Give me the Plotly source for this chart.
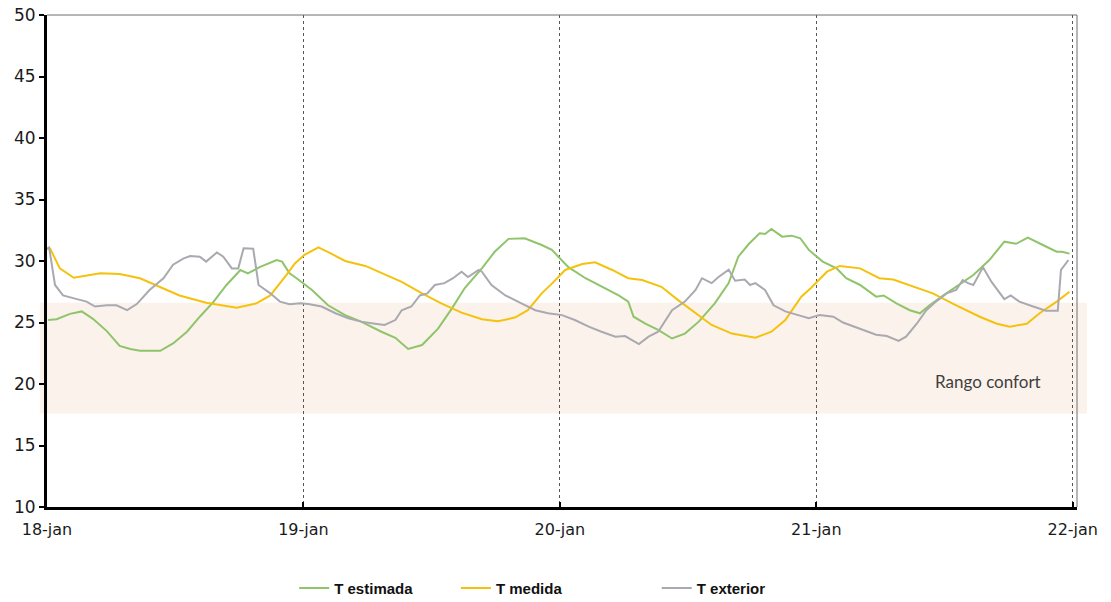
import plotly.graph_objects as go

# ---------------- data (hours since 18-jan 00:00, °C) ----------------
day_ticks = [0, 24, 48, 72, 96]
day_labels = ["18-jan", "19-jan", "20-jan", "21-jan", "22-jan"]
y_ticks = [10, 15, 20, 25, 30, 35, 40, 45, 50]

estimada_h = [0.1, 0.9, 2.15, 3.25, 4.3, 5.6, 6.8, 7.8, 8.7, 10.6, 11.8, 13.1, 14.3, 15.6, 16.8,
              18.1, 18.8, 19.9, 21.5, 22.0, 22.7, 23.2, 24.8, 26.3, 27.9, 29.4, 31.3, 32.6, 33.8,
              35.1, 36.6, 37.9, 39.1, 40.7, 41.9, 43.2, 44.7, 46.3, 47.25, 48.8, 50.4, 51.9, 53.5,
              54.4, 54.9, 56.0, 57.2, 58.5, 59.7, 61.0, 62.5, 63.8, 64.7, 65.7, 66.7, 67.2, 67.8,
              68.8, 69.7, 70.5, 71.3, 72.6, 73.9, 74.8, 76.1, 77.6, 78.3, 79.5, 80.75, 81.7, 82.6,
              83.9, 85.1, 86.7, 88.2, 89.6, 90.7, 91.8, 93.2, 94.5, 95.0, 95.7]
estimada_v = [25.2, 25.26, 25.7, 25.9, 25.3, 24.3, 23.1, 22.85, 22.7, 22.7, 23.3, 24.25, 25.47, 26.7, 28.05,
              29.27, 29.0, 29.5, 30.08, 29.95, 29.0, 28.7, 27.64, 26.4, 25.6, 25.07, 24.25, 23.76, 22.85,
              23.17, 24.5, 26.15, 27.8, 29.4, 30.75, 31.8, 31.85, 31.3, 30.9, 29.5, 28.6, 27.9, 27.2,
              26.7, 25.47, 24.9, 24.4, 23.7, 24.1, 25.07, 26.56, 28.2, 30.35, 31.4, 32.25, 32.2, 32.6,
              31.98, 32.06, 31.85, 30.9, 29.95, 29.4, 28.6, 28.05, 27.1, 27.2, 26.56, 26.0, 25.75, 26.4,
              27.2, 27.9, 28.86, 30.08, 31.57, 31.4, 31.9, 31.3, 30.75, 30.75, 30.6]

medida_h = [0.0, 0.3, 1.2, 2.5, 5.0, 6.8, 8.7, 10.3, 12.4, 14.9, 17.75, 19.6, 20.9, 22.4, 23.2,
            24.1, 25.4, 26.6, 27.9, 29.8, 31.3, 33.2, 35.1, 36.9, 38.8, 40.7, 42.2, 43.8, 45.0,
            46.3, 47.3, 48.5, 50.1, 51.3, 52.9, 54.4, 55.7, 57.5, 59.1, 60.7, 62.2, 64.1, 66.3,
            67.8, 69.1, 70.6, 71.5, 73.0, 74.2, 76.1, 77.9, 79.2, 80.75, 82.9, 85.1, 87.3, 88.9,
            90.1, 91.7, 92.9, 94.5, 95.7]
medida_v = [31.0, 31.0, 29.4, 28.64, 29.0, 28.94, 28.6, 27.97, 27.2, 26.6, 26.2, 26.56, 27.2, 28.86, 29.8,
            30.5, 31.1, 30.6, 30.0, 29.6, 29.0, 28.3, 27.37, 26.56, 25.8, 25.26, 25.1, 25.4, 26.0,
            27.37, 28.2, 29.27, 29.76, 29.9, 29.27, 28.6, 28.45, 27.9, 26.8, 25.75, 24.8, 24.1, 23.76,
            24.25, 25.2, 27.1, 27.8, 29.13, 29.6, 29.4, 28.6, 28.5, 28.05, 27.37, 26.4, 25.47, 24.9,
            24.66, 24.9, 25.75, 26.7, 27.5]

exterior_h = [0.0, 0.2, 0.75, 1.5, 2.8, 3.7, 4.5, 5.6, 6.5, 7.5, 8.4, 9.6, 10.9, 11.8, 12.75, 13.4,
              14.3, 14.9, 15.9, 16.5, 17.3, 17.9, 18.4, 19.3, 19.8, 20.9, 21.8, 22.7, 23.7, 24.45,
              25.7, 27.0, 28.2, 29.4, 30.7, 31.6, 32.6, 33.2, 34.1, 34.9, 35.6, 36.3, 37.2, 38.0,
              38.8, 39.4, 40.4, 40.7, 41.6, 42.9, 44.4, 45.7, 46.9, 48.2, 49.4, 50.7, 51.9, 53.2,
              54.1, 55.4, 56.3, 57.2, 58.5, 59.7, 60.7, 61.3, 62.2, 62.85, 63.8, 64.4, 65.3, 65.8,
              66.3, 67.2, 68.0, 69.1, 70.3, 71.3, 72.3, 73.6, 74.5, 76.1, 77.6, 78.6, 79.7, 80.4,
              81.4, 82.3, 83.2, 84.2, 85.1, 85.7, 86.2, 86.7, 87.6, 88.4, 89.0, 89.6, 90.2, 91.0,
              92.3, 93.5, 94.6, 94.9, 95.6]
exterior_v = [31.0, 31.1, 28.05, 27.2, 26.9, 26.7, 26.3, 26.4, 26.4, 26.0, 26.5, 27.64, 28.6, 29.7, 30.2, 30.4,
              30.35, 29.95, 30.7, 30.35, 29.4, 29.4, 31.03, 31.0, 28.05, 27.37, 26.7, 26.48, 26.56, 26.5,
              26.3, 25.75, 25.35, 25.07, 24.9, 24.8, 25.2, 26.0, 26.3, 27.2, 27.37, 28.05, 28.2, 28.6,
              29.13, 28.7, 29.27, 29.13, 28.05, 27.2, 26.56, 26.0, 25.75, 25.6, 25.2, 24.66, 24.25, 23.85,
              23.9, 23.25, 23.85, 24.25, 26.0, 26.7, 27.64, 28.6, 28.2, 28.7, 29.3, 28.4, 28.5, 28.05,
              28.2, 27.64, 26.4, 25.9, 25.6, 25.35, 25.6, 25.47, 25.0, 24.5, 24.0, 23.9, 23.5, 23.85,
              24.9, 26.0, 26.7, 27.37, 27.64, 28.45, 28.2, 28.05, 29.5, 28.3, 27.64, 26.9, 27.2, 26.7,
              26.3, 25.96, 25.96, 29.27, 30.08]

comfort_low, comfort_high = 17.6, 26.6

# ---------------- figure ----------------
fig = go.Figure()
fig.add_trace(go.Scatter(x=estimada_h, y=estimada_v, mode="lines", name="<b>T estimada</b>",
                         line=dict(color="#8fc46a", width=2), legend="legend"))
fig.add_trace(go.Scatter(x=medida_h, y=medida_v, mode="lines", name="<b>T medida</b>",
                         line=dict(color="#f4c20d", width=2), legend="legend2"))
fig.add_trace(go.Scatter(x=exterior_h, y=exterior_v, mode="lines", name="<b>T exterior</b>",
                         line=dict(color="#a9a9b0", width=2), legend="legend3"))

# comfort band
fig.add_shape(type="rect", xref="paper", yref="y", x0=-0.007, x1=1.0097,
              y0=comfort_low, y1=comfort_high, fillcolor="#fcf2ec", line=dict(width=0),
              layer="below")
# top & right frame
fig.add_shape(type="line", xref="paper", yref="paper", x0=0, x1=1, y0=1, y1=1,
              line=dict(color="#6e6e6e", width=1))
fig.add_shape(type="line", xref="paper", yref="paper", x0=1, x1=1, y0=0, y1=1,
              line=dict(color="#6e6e6e", width=1))

fig.add_annotation(x=88.05, y=20.2, xref="x", yref="y", text="Rango confort", showarrow=False,
                   font=dict(family="Lato", size=17, color="#3f3f3f"))

legend_common = dict(orientation="h", yanchor="middle", xanchor="left", y=-0.165,
                     font=dict(family="Liberation Sans", size=15, color="#111111"),
                     bgcolor="rgba(0,0,0,0)", itemwidth=30)

fig.update_layout(
    width=1111, height=602,
    margin=dict(l=47, r=34, t=15, b=95, autoexpand=False),
    paper_bgcolor="white", plot_bgcolor="white",
    showlegend=True,
    legend=dict(x=0.24, **legend_common),
    legend2=dict(x=0.397, **legend_common),
    legend3=dict(x=0.592, **legend_common),
    xaxis=dict(range=[0, 96.4], tickmode="array", tickvals=day_ticks, ticktext=day_labels,
               showgrid=True, gridcolor="#555555", griddash="dot", gridwidth=1,
               showline=True, linecolor="black", linewidth=3,
               ticks="inside", ticklen=5, tickwidth=2, tickcolor="black",
               ticklabelstandoff=6, automargin=False, ticklabeloverflow="allow",
               tickfont=dict(family="DejaVu Sans", size=16, color="#1a1a1a"),
               zeroline=False, fixedrange=True),
    yaxis=dict(range=[10, 50], tickmode="array", tickvals=y_ticks,
               showgrid=False, showline=True, linecolor="black", linewidth=3,
               ticks="outside", ticklen=5, tickwidth=2, tickcolor="black",
               automargin=False, ticklabeloverflow="allow",
               tickfont=dict(family="DejaVu Sans", size=17, color="#1a1a1a"),
               zeroline=False, fixedrange=True),
)

fig.write_html("out.html",
               config={"displayModeBar": False},
               post_script="document.body.style.margin='0';document.body.style.overflow='hidden';")
